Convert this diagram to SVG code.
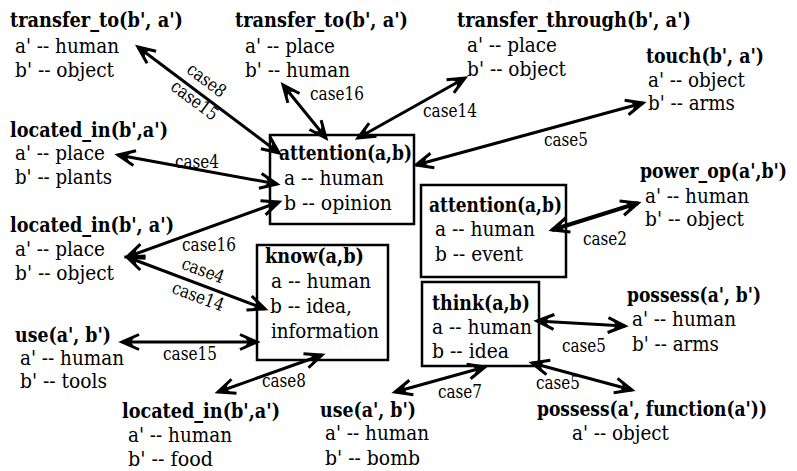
<svg xmlns="http://www.w3.org/2000/svg" width="797" height="471" viewBox="0 0 797 471">
<style>
text{font-family:"DejaVu Serif Condensed","DejaVu Serif",serif;font-stretch:condensed;fill:#000}
.h{font-size:21px;font-weight:bold}
.t{font-size:21px}
.l{font-size:18px}
.box{fill:none;stroke:#000;stroke-width:2.5}
.c{stroke:#000;stroke-width:3;fill:none;marker-start:url(#ah);marker-end:url(#ah)}
</style>
<defs>
<marker id="ah" markerUnits="userSpaceOnUse" markerWidth="24" markerHeight="20" refX="0" refY="0" viewBox="-18 -10 20 20" orient="auto-start-reverse" overflow="visible">
<path d="M-17,-7.5 L0,0 L-17,7.5" fill="none" stroke="#000" stroke-width="3"/>
<path d="M1,0 L-12,-4.5 L-9,0 L-12,4.5 Z" fill="#000"/>
</marker>
</defs>
<g id="connectors">
<line class="c" x1="138" y1="47" x2="279" y2="153"/>
<line class="c" x1="283" y1="85" x2="326" y2="138"/>
<line class="c" x1="465" y1="78" x2="358" y2="138"/>
<line class="c" x1="416" y1="165" x2="643" y2="103"/>
<line class="c" x1="118" y1="155" x2="277" y2="184"/>
<line class="c" x1="127" y1="257" x2="279" y2="202"/>
<line class="c" x1="127" y1="257" x2="265" y2="309"/>
<line class="c" x1="122" y1="342" x2="257" y2="342"/>
<line class="c" x1="218" y1="392" x2="322" y2="355"/>
<line class="c" x1="552" y1="230" x2="638" y2="203" style="stroke-width:4"/>
<line class="c" x1="537" y1="321" x2="625" y2="326"/>
<line class="c" x1="532" y1="363" x2="632" y2="390"/>
<line class="c" x1="395" y1="392" x2="485" y2="367"/>
<text class="l" text-anchor="middle" textLength="44" lengthAdjust="spacingAndGlyphs" transform="translate(203,85) rotate(37)">case8</text>
<text class="l" text-anchor="middle" textLength="54" lengthAdjust="spacingAndGlyphs" transform="translate(191,105) rotate(37)">case15</text>
<text class="l" text-anchor="middle" textLength="54" lengthAdjust="spacingAndGlyphs" x="337" y="100">case16</text>
<text class="l" text-anchor="middle" textLength="54" lengthAdjust="spacingAndGlyphs" x="450" y="117">case14</text>
<text class="l" text-anchor="middle" textLength="44" lengthAdjust="spacingAndGlyphs" x="566" y="146">case5</text>
<text class="l" text-anchor="middle" textLength="44" lengthAdjust="spacingAndGlyphs" x="197" y="168">case4</text>
<text class="l" text-anchor="middle" textLength="54" lengthAdjust="spacingAndGlyphs" x="209" y="251">case16</text>
<text class="l" text-anchor="middle" textLength="44" lengthAdjust="spacingAndGlyphs" transform="translate(201,276) rotate(20.6)">case4</text>
<text class="l" text-anchor="middle" textLength="54" lengthAdjust="spacingAndGlyphs" transform="translate(196,302) rotate(20.6)">case14</text>
<text class="l" text-anchor="middle" textLength="54" lengthAdjust="spacingAndGlyphs" x="190" y="360">case15</text>
<text class="l" text-anchor="middle" textLength="44" lengthAdjust="spacingAndGlyphs" x="284" y="387">case8</text>
<text class="l" text-anchor="middle" textLength="44" lengthAdjust="spacingAndGlyphs" x="605" y="245">case2</text>
<text class="l" text-anchor="middle" textLength="44" lengthAdjust="spacingAndGlyphs" x="584" y="352">case5</text>
<text class="l" text-anchor="middle" textLength="44" lengthAdjust="spacingAndGlyphs" x="558" y="389">case5</text>
<text class="l" text-anchor="middle" textLength="44" lengthAdjust="spacingAndGlyphs" x="460" y="398">case7</text>
</g>
<g id="box-attention-opinion">
<rect class="box" x="270" y="135" width="144" height="89"/>
<text class="h" x="279" y="160" textLength="133" lengthAdjust="spacingAndGlyphs">attention(a,b)</text>
<text class="t" x="284" y="185" textLength="100" lengthAdjust="spacingAndGlyphs">a -- human</text>
<text class="t" x="284" y="210" textLength="108" lengthAdjust="spacingAndGlyphs">b -- opinion</text>
</g>
<g id="box-attention-event">
<rect class="box" x="421" y="185" width="145" height="92"/>
<text class="h" x="429" y="212" textLength="133" lengthAdjust="spacingAndGlyphs">attention(a,b)</text>
<text class="t" x="435" y="236" textLength="100" lengthAdjust="spacingAndGlyphs">a -- human</text>
<text class="t" x="435" y="261" textLength="88" lengthAdjust="spacingAndGlyphs">b -- event</text>
</g>
<g id="box-know">
<rect class="box" x="257" y="245" width="131" height="115"/>
<text class="h" x="265" y="263" textLength="99" lengthAdjust="spacingAndGlyphs">know(a,b)</text>
<text class="t" x="271" y="288" textLength="100" lengthAdjust="spacingAndGlyphs">a -- human</text>
<text class="t" x="270" y="313" textLength="82" lengthAdjust="spacingAndGlyphs">b -- idea,</text>
<text class="t" x="271" y="338" textLength="108" lengthAdjust="spacingAndGlyphs">information</text>
</g>
<g id="box-think">
<rect class="box" x="422" y="282" width="117" height="84"/>
<text class="h" x="432" y="310" textLength="98" lengthAdjust="spacingAndGlyphs">think(a,b)</text>
<text class="t" x="432" y="334" textLength="100" lengthAdjust="spacingAndGlyphs">a -- human</text>
<text class="t" x="432" y="358" textLength="77" lengthAdjust="spacingAndGlyphs">b -- idea</text>
</g>
<g id="n-transfer-to-1">
<text class="h" x="10" y="27" textLength="173" lengthAdjust="spacingAndGlyphs">transfer_to(b', a')</text>
<text class="t" x="15" y="53" textLength="104" lengthAdjust="spacingAndGlyphs">a' -- human</text>
<text class="t" x="15" y="77" textLength="99" lengthAdjust="spacingAndGlyphs">b' -- object</text>
</g>
<g id="n-transfer-to-2">
<text class="h" x="235" y="27" textLength="173" lengthAdjust="spacingAndGlyphs">transfer_to(b', a')</text>
<text class="t" x="245" y="53" textLength="90" lengthAdjust="spacingAndGlyphs">a' -- place</text>
<text class="t" x="245" y="77" textLength="105" lengthAdjust="spacingAndGlyphs">b' -- human</text>
</g>
<g id="n-transfer-through">
<text class="h" x="457" y="27" textLength="234" lengthAdjust="spacingAndGlyphs">transfer_through(b', a')</text>
<text class="t" x="467" y="52" textLength="90" lengthAdjust="spacingAndGlyphs">a' -- place</text>
<text class="t" x="467" y="76" textLength="99" lengthAdjust="spacingAndGlyphs">b' -- object</text>
</g>
<g id="n-touch">
<text class="h" x="646" y="63" textLength="118" lengthAdjust="spacingAndGlyphs">touch(b', a')</text>
<text class="t" x="648" y="87" textLength="97" lengthAdjust="spacingAndGlyphs">a' -- object</text>
<text class="t" x="648" y="110" textLength="87" lengthAdjust="spacingAndGlyphs">b' -- arms</text>
</g>
<g id="n-located-plants">
<text class="h" x="10" y="137" textLength="158" lengthAdjust="spacingAndGlyphs">located_in(b',a')</text>
<text class="t" x="15" y="160" textLength="90" lengthAdjust="spacingAndGlyphs">a' -- place</text>
<text class="t" x="15" y="184" textLength="97" lengthAdjust="spacingAndGlyphs">b' -- plants</text>
</g>
<g id="n-located-object">
<text class="h" x="10" y="232" textLength="164" lengthAdjust="spacingAndGlyphs">located_in(b', a')</text>
<text class="t" x="15" y="256" textLength="90" lengthAdjust="spacingAndGlyphs">a' -- place</text>
<text class="t" x="15" y="280" textLength="99" lengthAdjust="spacingAndGlyphs">b' -- object</text>
</g>
<g id="n-power-op">
<text class="h" x="640" y="178" textLength="147" lengthAdjust="spacingAndGlyphs">power_op(a',b')</text>
<text class="t" x="645" y="203" textLength="104" lengthAdjust="spacingAndGlyphs">a' -- human</text>
<text class="t" x="645" y="226" textLength="99" lengthAdjust="spacingAndGlyphs">b' -- object</text>
</g>
<g id="n-possess">
<text class="h" x="627" y="302" textLength="134" lengthAdjust="spacingAndGlyphs">possess(a', b')</text>
<text class="t" x="632" y="326" textLength="104" lengthAdjust="spacingAndGlyphs">a' -- human</text>
<text class="t" x="632" y="351" textLength="87" lengthAdjust="spacingAndGlyphs">b' -- arms</text>
</g>
<g id="n-use-tools">
<text class="h" x="15" y="342" textLength="96" lengthAdjust="spacingAndGlyphs">use(a', b')</text>
<text class="t" x="20" y="365" textLength="104" lengthAdjust="spacingAndGlyphs">a' -- human</text>
<text class="t" x="20" y="388" textLength="87" lengthAdjust="spacingAndGlyphs">b' -- tools</text>
</g>
<g id="n-located-food">
<text class="h" x="122" y="418" textLength="158" lengthAdjust="spacingAndGlyphs">located_in(b',a')</text>
<text class="t" x="128" y="442" textLength="104" lengthAdjust="spacingAndGlyphs">a' -- human</text>
<text class="t" x="128" y="466" textLength="85" lengthAdjust="spacingAndGlyphs">b' -- food</text>
</g>
<g id="n-use-bomb">
<text class="h" x="320" y="417" textLength="96" lengthAdjust="spacingAndGlyphs">use(a', b')</text>
<text class="t" x="325" y="440" textLength="104" lengthAdjust="spacingAndGlyphs">a' -- human</text>
<text class="t" x="325" y="465" textLength="95" lengthAdjust="spacingAndGlyphs">b' -- bomb</text>
</g>
<g id="n-possess-function">
<text class="h" x="537" y="416" textLength="230" lengthAdjust="spacingAndGlyphs">possess(a', function(a'))</text>
<text class="t" x="572" y="440" textLength="97" lengthAdjust="spacingAndGlyphs">a' -- object</text>
</g>
</svg>
